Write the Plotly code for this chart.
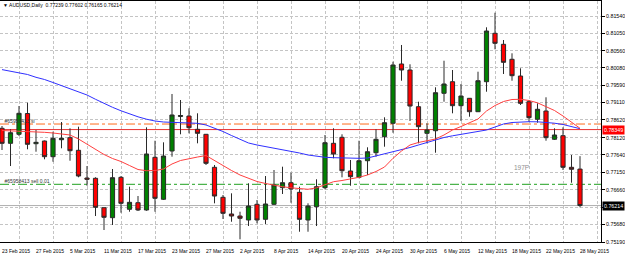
import plotly.graph_objects as go

# ---------------- data ----------------
date_labels = ["23 Feb 2015", "27 Feb 2015", "5 Mar 2015", "11 Mar 2015", "17 Mar 2015",
               "23 Mar 2015", "27 Mar 2015", "2 Apr 2015", "8 Apr 2015", "14 Apr 2015",
               "20 Apr 2015", "24 Apr 2015", "30 Apr 2015", "6 May 2015", "12 May 2015",
               "18 May 2015", "22 May 2015", "28 May 2015"]
date_label_idx = [0, 4, 8, 12, 16, 20, 24, 28, 32, 36, 40, 44, 48, 52, 56, 60, 64, 68]
grid_idx = [2, 6, 10, 14, 18, 22, 26, 30, 34, 38, 42, 46, 50, 54, 58, 62, 66, 70]

opens = [0.78385, 0.77963, 0.78216, 0.78800, 0.77952, 0.78028, 0.77587, 0.78064, 0.78121, 0.77767,
         0.76988, 0.76980, 0.76154, 0.75873, 0.77008, 0.76109, 0.76294, 0.76089, 0.77570, 0.76390,
         0.77747, 0.78716, 0.78730, 0.78357, 0.78216, 0.77289, 0.76446, 0.75977, 0.75920, 0.75808,
         0.76249, 0.75828, 0.76249, 0.76716, 0.76856, 0.76586, 0.75808, 0.76182, 0.76716, 0.77963,
         0.78132, 0.77185, 0.77008, 0.77474, 0.77699, 0.78149, 0.78525, 0.80192, 0.80023, 0.78992,
         0.78244, 0.78317, 0.79368, 0.79694, 0.79020, 0.79228, 0.78851, 0.79694, 0.81054, 0.80745,
         0.80324, 0.79854, 0.79132, 0.78638, 0.78871, 0.78076, 0.78177, 0.77289, 0.77239]
highs = [0.78449, 0.78357, 0.79011, 0.79104, 0.78337, 0.78040, 0.78289, 0.78562, 0.78385, 0.78430,
         0.77325, 0.77008, 0.76160, 0.77241, 0.77044, 0.76744, 0.76482, 0.78413, 0.78036, 0.77991,
         0.79349, 0.79180, 0.78947, 0.78806, 0.78225, 0.77354, 0.76511, 0.76558, 0.76041, 0.76839,
         0.76370, 0.77044, 0.77213, 0.77306, 0.77137, 0.76744, 0.76277, 0.76952, 0.78197, 0.78385,
         0.78216, 0.77494, 0.78036, 0.77851, 0.78357, 0.78694, 0.80256, 0.80726, 0.80183, 0.79132,
         0.78525, 0.79537, 0.80284, 0.80023, 0.79630, 0.79236, 0.79975, 0.81223, 0.81633, 0.80866,
         0.80492, 0.80071, 0.79180, 0.79087, 0.79256, 0.78385, 0.78413, 0.77635, 0.77602]
lows = [0.77775, 0.77325, 0.78168, 0.77795, 0.77727, 0.77514, 0.77446, 0.77823, 0.77474, 0.77008,
        0.76772, 0.75920, 0.75527, 0.75668, 0.76013, 0.76041, 0.76061, 0.76069, 0.76041, 0.76370,
        0.77587, 0.78216, 0.78244, 0.77963, 0.77354, 0.76277, 0.75836, 0.75760, 0.75266, 0.75639,
        0.75715, 0.75696, 0.76230, 0.76539, 0.76294, 0.75479, 0.75479, 0.75639, 0.76671, 0.77542,
        0.77008, 0.76772, 0.76980, 0.77073, 0.77587, 0.77868, 0.78261, 0.79722, 0.78590, 0.77963,
        0.77963, 0.77699, 0.79132, 0.78806, 0.78590, 0.78711, 0.78843, 0.79413, 0.80605, 0.79911,
        0.79722, 0.79040, 0.78570, 0.78542, 0.78036, 0.78056, 0.77213, 0.76856, 0.76165]
closes = [0.77963, 0.78261, 0.78806, 0.77935, 0.77991, 0.77587, 0.78104, 0.78104, 0.77755, 0.77044,
          0.76952, 0.76165, 0.75884, 0.76997, 0.76277, 0.76305, 0.76089, 0.77663, 0.76418, 0.77606,
          0.78759, 0.78744, 0.78402, 0.78244, 0.77401, 0.76482, 0.75996, 0.75920, 0.75856, 0.76201,
          0.75808, 0.76258, 0.76792, 0.76856, 0.76679, 0.75828, 0.76201, 0.76744, 0.77980, 0.77663,
          0.77193, 0.77025, 0.77474, 0.77727, 0.78076, 0.78542, 0.80164, 0.80023, 0.79011, 0.78430,
          0.78337, 0.79385, 0.79630, 0.79020, 0.79292, 0.78851, 0.79722, 0.81119, 0.80773, 0.80239,
          0.79863, 0.79087, 0.78683, 0.78919, 0.78121, 0.78197, 0.77289, 0.77233, 0.76214]

ma_slow = [0.80034, 0.79995, 0.79953, 0.79897, 0.79818, 0.79756, 0.79672, 0.79587, 0.79503, 0.79410,
           0.79321, 0.79200, 0.79082, 0.78975, 0.78877, 0.78787, 0.78708, 0.78641, 0.78590, 0.78562,
           0.78548, 0.78539, 0.78534, 0.78525, 0.78478, 0.78393, 0.78295, 0.78182, 0.78070, 0.77972,
           0.77916, 0.77873, 0.77831, 0.77795, 0.77747, 0.77691, 0.77635, 0.77592, 0.77570, 0.77559,
           0.77550, 0.77545, 0.77542, 0.77550, 0.77606, 0.77663, 0.77733, 0.77789, 0.77845, 0.77916,
           0.77987, 0.78056, 0.78126, 0.78174, 0.78211, 0.78244, 0.78281, 0.78337, 0.78421, 0.78506,
           0.78548, 0.78562, 0.78570, 0.78567, 0.78553, 0.78528, 0.78492, 0.78435, 0.78374]
ma_fast = [0.78323, 0.78315, 0.78309, 0.78301, 0.78286, 0.78272, 0.78253, 0.78225, 0.78197, 0.78084,
           0.77944, 0.77803, 0.77649, 0.77536, 0.77452, 0.77339, 0.77227, 0.77193, 0.77199, 0.77241,
           0.77382, 0.77480, 0.77536, 0.77578, 0.77620, 0.77480, 0.77325, 0.77199, 0.77073, 0.76974,
           0.76890, 0.76834, 0.76783, 0.76744, 0.76713, 0.76685, 0.76671, 0.76713, 0.76792, 0.76884,
           0.76918, 0.76955, 0.77008, 0.77073, 0.77171, 0.77297, 0.77542, 0.77747, 0.77916, 0.77987,
           0.78028, 0.78084, 0.78197, 0.78337, 0.78435, 0.78534, 0.78646, 0.78871, 0.79025, 0.79138,
           0.79194, 0.79200, 0.79166, 0.79101, 0.79003, 0.78885, 0.78730, 0.78562, 0.78385]

price_ticks = [0.81540, 0.81050, 0.80560, 0.80080, 0.79590, 0.79110, 0.78620, 0.78120,
               0.77640, 0.77150, 0.76660, 0.76170, 0.75680, 0.75190]
price_tick_text = ["0.81540", "0.81050", "0.80560", "0.80080", "0.79590", "0.79110", "0.78620",
                   "0.78120", "0.77640", "0.77150", "0.76660", "", "0.75680", "0.75190"]

sl_level = 0.78505
red_level = 0.78349
entry_level = 0.76811
bid_level = 0.76214
sl_label = "#65958413 sl"
entry_label = "#65958413 sell 0.01"
header = "\u25bc AUDUSD,Daily  0.77239 0.77602 0.76165 0.76214"
pips_text = "197P"
pips_pos = (60, 0.77283)

x_range = [-0.235, 70.47]
y_range = [0.75190, 0.81962]

FONT = "Liberation Sans, Arial, sans-serif"
idx = list(range(len(opens)))

fig = go.Figure()

# object labels (behind candles)
fig.add_trace(go.Scatter(x=[0.3], y=[sl_level], mode="text", text=[sl_label],
                         textposition="top right", textfont=dict(size=5, color="#333333", family=FONT),
                         hoverinfo="skip"))
fig.add_trace(go.Scatter(x=[0.3], y=[entry_level], mode="text", text=[entry_label],
                         textposition="top right", textfont=dict(size=5, color="#333333", family=FONT),
                         hoverinfo="skip"))

fig.add_trace(go.Candlestick(
    x=idx, open=opens, high=highs, low=lows, close=closes,
    increasing=dict(fillcolor="#008000", line=dict(color="#2a2a2a", width=1)),
    decreasing=dict(fillcolor="#ff0000", line=dict(color="#2a2a2a", width=1)),
    whiskerwidth=0, hoverinfo="skip"))

fig.add_trace(go.Scatter(x=idx, y=ma_slow, mode="lines", line=dict(color="#3030ff", width=1),
                         hoverinfo="skip"))
fig.add_trace(go.Scatter(x=idx, y=ma_fast, mode="lines", line=dict(color="#ff4040", width=1),
                         hoverinfo="skip"))

# horizontal object lines
fig.add_shape(type="line", xref="paper", x0=0, x1=1, y0=sl_level, y1=sl_level,
              line=dict(color="#ff6a1a", width=1, dash="dashdot"), layer="between")
fig.add_shape(type="line", xref="paper", x0=0, x1=1, y0=red_level, y1=red_level,
              line=dict(color="#e83030", width=1), layer="between")
fig.add_shape(type="line", xref="paper", x0=0, x1=1, y0=entry_level, y1=entry_level,
              line=dict(color="#20a020", width=1, dash="dashdot"), layer="between")
fig.add_shape(type="line", xref="paper", x0=0, x1=1, y0=bid_level, y1=bid_level,
              line=dict(color="#b0b0b0", width=1), layer="between")

annotations = []
for i, lab in zip(date_label_idx, date_labels):
    annotations.append(dict(x=i, xref="x", y=-0.036, yref="paper", text=lab, showarrow=False,
                            xanchor="left", yanchor="middle", xshift=-2,
                            font=dict(size=5, color="#000000", family=FONT)))
annotations.append(dict(x=0, xref="paper", y=0.985, yref="paper", text=header, showarrow=False,
                        xanchor="left", yanchor="middle", xshift=1,
                        font=dict(size=5, color="#000000", family=FONT)))
annotations.append(dict(x=pips_pos[0], xref="x", y=pips_pos[1], yref="y", text=pips_text,
                        showarrow=False, xanchor="left", yanchor="middle",
                        font=dict(size=6.5, color="#909090", family=FONT)))
annotations.append(dict(x=1, xref="paper", y=red_level, yref="y", text=f"{red_level:.5f}",
                        showarrow=False, xanchor="left", yanchor="middle", xshift=1,
                        bgcolor="#ff0000", borderpad=1,
                        font=dict(size=5.3, color="#ffffff", family=FONT)))
annotations.append(dict(x=1, xref="paper", y=bid_level, yref="y", text=f"{bid_level:.5f}",
                        showarrow=False, xanchor="left", yanchor="middle", xshift=1,
                        bgcolor="#000000", borderpad=1,
                        font=dict(size=5.3, color="#ffffff", family=FONT)))

fig.update_layout(
    width=625, height=255,
    margin=dict(l=0, r=24, t=1, b=13),
    paper_bgcolor="#ffffff", plot_bgcolor="#ffffff",
    showlegend=False,
    annotations=annotations,
    xaxis=dict(range=x_range, tickvals=grid_idx, showticklabels=False, ticks="",
               showgrid=True, gridcolor="#c4c4c4", griddash="3px,2px", gridwidth=1,
               showline=True, linecolor="#000000", linewidth=1, mirror=True,
               zeroline=False, rangeslider=dict(visible=False), fixedrange=True),
    yaxis=dict(range=y_range, side="right", tickvals=price_ticks, ticktext=price_tick_text,
               ticks="outside", ticklen=3, tickcolor="#000000",
               tickfont=dict(size=5.3, color="#000000", family=FONT),
               showgrid=True, gridcolor="#c4c4c4", griddash="3px,2px", gridwidth=1,
               showline=True, linecolor="#000000", linewidth=1,
               zeroline=False, fixedrange=True),
)

fig.write_html("out.html")
